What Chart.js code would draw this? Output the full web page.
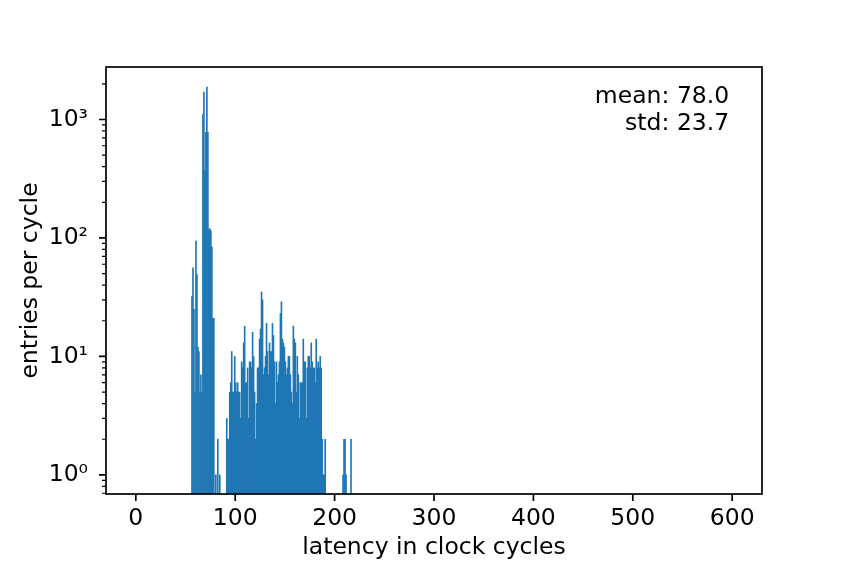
<!DOCTYPE html>
<html>
<head>
<meta charset="utf-8">
<script src="https://cdn.jsdelivr.net/npm/chart.js@4.4.1/dist/chart.umd.min.js"></script>
<style>
  html, body { margin: 0; padding: 0; background: #fff; }
</style>
</head>
<body>
<canvas id="chart" width="847" height="565"></canvas>
<script>
// latency histogram, 1 cycle per bin (only non-empty bins)
const cycles = [
  56, 57, 58, 59, 60, 61, 62, 63, 64, 65, 66, 67, 68, 69, 70, 71, 72, 73, 74, 75, 76, 77, 78,
  80, 82, 84,
  91, 92, 93, 94, 95, 96, 97, 98, 99, 100, 101, 102, 103, 104, 105, 106, 107, 108, 109, 110,
  111, 112, 113, 114, 115, 116, 117, 118, 119, 120, 121, 122, 123, 124, 125, 126, 127, 128, 129, 130,
  131, 132, 133, 134, 135, 136, 137, 138, 139, 140, 141, 142, 143, 144, 145, 146, 147, 148, 149, 150,
  151, 152, 153, 154, 155, 156, 157, 158, 159, 160, 161, 162, 163, 164, 165, 166, 167, 168, 169, 170,
  171, 172, 173, 174, 175, 176, 177, 178, 179, 180, 181, 182, 183, 184, 185, 186, 187, 188, 189, 190,
  208, 209, 210, 211, 216
];
const entries = [
  32, 56, 25, 5, 94, 49, 12, 11, 5, 7, 5, 1100, 1700, 370, 780, 1880, 780, 117, 120, 115, 84, 21, 21,
  1, 2, 1,
  3, 2, 2, 5, 6, 11, 5, 5, 10, 6, 5, 6, 5, 5, 3, 9, 8, 13, 18, 6,
  6, 8, 3, 9, 9, 8, 16, 10, 5, 2, 4, 8, 8, 14, 17, 35, 30, 7, 8, 10,
  19, 11, 7, 13, 11, 11, 19, 15, 9, 4, 9, 6, 7, 9, 23, 29, 14, 13, 12, 9,
  7, 8, 10, 10, 7, 5, 4, 18, 14, 13, 5, 10, 7, 3, 6, 6, 6, 14, 9, 9,
  3, 8, 10, 10, 8, 13, 9, 8, 8, 6, 14, 8, 9, 8, 10, 8, 2, 1, 1, 2,
  1, 2, 2, 1, 2
];

const xTicks = [0, 100, 200, 300, 400, 500, 600];
const yTicks = [1, 10, 100, 1000];
const yTickLabels = ['10⁰', '10¹', '10²', '10³'];
const statLines = ['mean: 78.0', 'std: 23.7'];

const FONT = 'DejaVu Sans';
const FS = 23.5;

// spines, tick marks (major + minor log ticks) and the stats box
const axesFrame = {
  id: 'axesFrame',
  afterDraw(chart) {
    const { ctx, chartArea: a, scales: { x, y } } = chart;
    ctx.save();
    ctx.strokeStyle = '#000';
    ctx.lineWidth = 1.7;
    ctx.strokeRect(a.left, a.top, a.right - a.left, a.bottom - a.top);

    ctx.beginPath();
    xTicks.forEach(v => {
      const px = x.getPixelForValue(v);
      ctx.moveTo(px, a.bottom);
      ctx.lineTo(px, a.bottom + 7);
    });
    yTicks.forEach(v => {
      const py = y.getPixelForValue(v);
      ctx.moveTo(a.left, py);
      ctx.lineTo(a.left - 7, py);
    });
    ctx.stroke();

    // minor ticks 2..9 of each decade
    ctx.lineWidth = 1.2;
    ctx.beginPath();
    [0.1, 1, 10, 100, 1000].forEach(d => {
      for (let m = 2; m <= 9; m++) {
        const v = d * m;
        if (v < y.min || v > y.max) continue;
        const py = y.getPixelForValue(v);
        ctx.moveTo(a.left, py);
        ctx.lineTo(a.left - 4, py);
      }
    });
    ctx.stroke();

    ctx.fillStyle = '#000';
    ctx.font = FS + 'px "' + FONT + '"';
    ctx.textAlign = 'right';
    ctx.textBaseline = 'alphabetic';
    const tx = a.left + 0.95 * (a.right - a.left);
    let ty = a.top + 0.05 * (a.bottom - a.top) + 0.63 * FS;
    statLines.forEach(s => {
      ctx.fillText(s, tx, ty);
      ty += 1.15 * FS;
    });
    ctx.restore();
  }
};

Chart.defaults.font.family = FONT;
Chart.defaults.font.size = FS;
Chart.defaults.color = '#000';

const ctx = document.getElementById('chart').getContext('2d');
new Chart(ctx, {
  type: 'bar',
  data: {
    datasets: [{
      data: cycles.map((c, i) => ({ x: c + 0.5, y: entries[i] })),
      backgroundColor: '#1f77b4',
      borderWidth: 0,
      barPercentage: 1,
      categoryPercentage: 1,
    }],
  },
  options: {
    responsive: false,
    animation: false,
    layout: { padding: { left: 0, top: 67, right: 85, bottom: 0 } },
    plugins: {
      legend: { display: false },
      tooltip: { enabled: false },
    },
    scales: {
      x: {
        type: 'linear',
        min: -30,
        max: 630,
        offset: false,
        grid: { display: false, drawTicks: false },
        border: { display: false },
        ticks: { padding: 11, maxRotation: 0, autoSkip: false },
        afterBuildTicks: s => { s.ticks = xTicks.map(v => ({ value: v })); },
        afterFit: s => { s.height = 71; },
        title: {
          display: true,
          text: 'latency in clock cycles',
          padding: { top: 0, bottom: 3 },
        },
      },
      y: {
        type: 'logarithmic',
        min: 0.69,
        max: 2773,
        grid: { display: false, drawTicks: false },
        border: { display: false },
        ticks: {
          padding: 18,
          autoSkip: false,
          callback: v => {
            const i = yTicks.indexOf(v);
            return i >= 0 ? yTickLabels[i] : '';
          },
        },
        afterBuildTicks: s => { s.ticks = yTicks.map(v => ({ value: v })); },
        afterFit: s => { s.width = 106; },
        title: {
          display: true,
          text: 'entries per cycle',
          padding: { top: 17, bottom: 0 },
        },
      },
    },
  },
  plugins: [axesFrame],
});
</script>
</body>
</html>
